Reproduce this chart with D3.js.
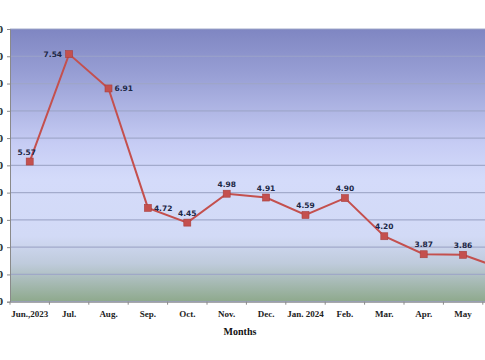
<!DOCTYPE html>
<html><head><meta charset="utf-8">
<script src="https://cdn.jsdelivr.net/npm/d3@7"></script>
<style>body{margin:0;background:#fff;overflow:hidden}</style>
</head><body><svg id="c" width="485" height="360"></svg>
<script>
const months = ["Jun.,2023","Jul.","Aug.","Sep.","Oct.","Nov.","Dec.","Jan. 2024","Feb.","Mar.","Apr.","May","Jun."];
const values = [5.57,7.54,6.91,4.72,4.45,4.98,4.91,4.59,4.90,4.20,3.87,3.86,3.60];
const labelPlace = ["top","left","right","right","top","top","top","top","top","top","top","top","top"];
const yTicks = [3.0,3.5,4.0,4.5,5.0,5.5,6.0,6.5,7.0,7.5,8.0];

const svg = d3.select("#c");
const L = 10, T = 29, B = 301.7, bandW = 39.4;
const x = d3.scaleBand().domain(months).range([L, L + bandW*months.length]).paddingInner(0).paddingOuter(0);
const y = d3.scaleLinear().domain([3, 8]).range([B, T]);
const R = L + bandW*months.length;

const defs = svg.append("defs");
const g = defs.append("linearGradient").attr("id","bg").attr("x1",0).attr("y1",0).attr("x2",0).attr("y2",1);
[[0,"#7f86c2"],[0.18,"#9aa1d6"],[0.42,"#c6ccf4"],[0.55,"#d4dbfa"],[0.76,"#d2daf6"],[0.86,"#bfcbdc"],[1,"#8ea98c"]]
  .forEach(([o,c])=>g.append("stop").attr("offset",o).attr("stop-color",c));

svg.append("rect").attr("x",L).attr("y",T).attr("width",R-L).attr("height",B-T).attr("fill","url(#bg)");

// gridlines
svg.append("g").selectAll("line").data(yTicks).join("line")
  .attr("x1",L).attr("x2",R).attr("y1",d=>y(d)).attr("y2",d=>y(d))
  .attr("stroke","#9ea6c8").attr("stroke-width",1.2).attr("opacity",0.9);

// y axis
const ya = svg.append("g").attr("transform",`translate(${L},0)`)
  .call(d3.axisLeft(y).tickValues(yTicks).tickFormat(d3.format(".2f")).tickSize(3).tickPadding(4));
ya.selectAll("text").attr("font-family","Liberation Serif, serif").attr("font-weight","bold").attr("font-size",10).attr("fill","#111");
ya.selectAll("line,path").attr("stroke","#8a8a8a");

// x axis
const xa = svg.append("g").attr("transform",`translate(0,${B})`)
  .call(d3.axisBottom(x).tickSize(0).tickPadding(9));
xa.select("path").attr("stroke","#8a8a8a");
xa.selectAll("text").attr("font-family","Liberation Serif, serif").attr("font-weight","bold").attr("font-size",9).attr("fill","#222");
// ticks at band boundaries
svg.append("g").selectAll("line").data(months).join("line")
  .attr("x1",d=>x(d)).attr("x2",d=>x(d)).attr("y1",B).attr("y2",B+3)
  .attr("stroke","#8a8a8a");

svg.append("text").attr("x",240).attr("y",335).attr("text-anchor","middle")
  .attr("font-family","Liberation Serif, serif").attr("font-weight","bold").attr("font-size",10).attr("fill","#111").text("Months");

const cx = d => x(d) + x.bandwidth()/2;
const line = d3.line().x((d,i)=>cx(months[i])).y(d=>y(d));
svg.append("path").datum(values).attr("d",line).attr("fill","none").attr("stroke","#c4504e").attr("stroke-width",2);

svg.append("g").selectAll("rect").data(values).join("rect")
  .attr("x",(d,i)=>cx(months[i])-3.5).attr("y",d=>y(d)-3.5).attr("width",7).attr("height",7)
  .attr("fill","#c4504e").attr("stroke","#a8403e").attr("stroke-width",0.6);

svg.append("g").selectAll("text").data(values).join("text")
  .attr("x",(d,i)=>{const p=labelPlace[i];return cx(months[i]) + (p==="left"?-7:p==="right"?6:(i===0?-3:0));})
  .attr("y",(d,i)=>{const p=labelPlace[i];return y(d) + (p==="top"?-7:3);})
  .attr("text-anchor",(d,i)=>labelPlace[i]==="left"?"end":labelPlace[i]==="right"?"start":"middle")
  .attr("font-family","DejaVu Sans, Verdana, sans-serif").attr("font-weight","bold").attr("font-size",7.5)
  .attr("fill","#1c2746").text(d=>d3.format(".2f")(d));
</script></body></html>
